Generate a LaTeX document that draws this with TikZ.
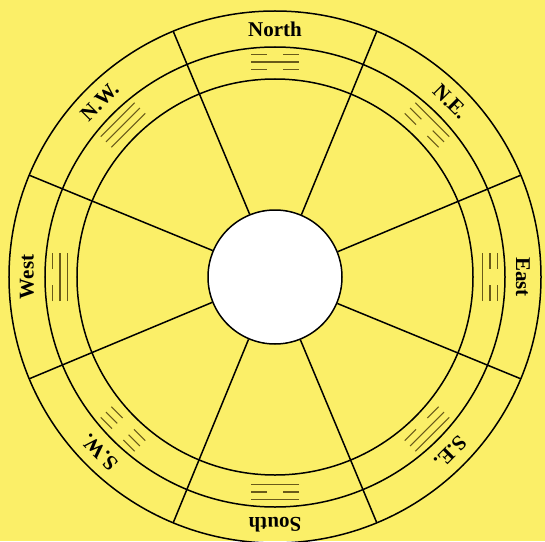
\documentclass[tikz,border=0pt]{standalone}
\usepackage{fontspec}
\setmainfont{Liberation Serif}
\definecolor{bg}{RGB}{251,239,104}
\definecolor{tri}{RGB}{105,90,25}
\begin{document}
\begin{tikzpicture}[x=1pt,y=1pt,
  ring/.style={draw=black, line width=1.5pt},
  lbl/.style={font=\bfseries\fontsize{21}{21}\selectfont, inner sep=0pt},
  yao/.style={draw=tri, line width=1.1pt}]
\fill[bg] (-275,-264) rectangle (270,277);
\useasboundingbox (-275,-264) rectangle (270,277);
% rings
\draw[ring] (0,0) circle (266);
\draw[ring] (0,0) circle (230);
\draw[ring] (0,0) circle (198);
\node[circle, draw=black, line width=1.5pt, fill=white, minimum size=134pt, inner sep=0pt] (hub) at (0,0) {};
% radial lines
\foreach \a [count=\i] in {22.5,67.5,112.5,157.5,202.5,247.5,292.5,337.5}{
  \coordinate (r\i) at (\a:266);
  \draw[ring] (hub.\a) -- (r\i);
}
% labels
\foreach \a/\t/\n in {90/North/lN, 45/N.E./lNE, 0/East/lE, -45/S.E./lSE, -90/South/lS, -135/S.W./lSW, 180/West/lW, 135/N.W./lNW}{
  \node[lbl, rotate=\a-90] (\n) at (\a:248) {\t};
}
% trigrams: pattern inner, middle, outer (1 = solid, 0 = broken)
\foreach \a/\p/\q/\r in {90/0/1/0, 45/0/0/1, 0/1/0/0, -45/0/1/1, -90/1/0/1, -135/0/0/0, 180/1/1/0, 135/1/1/1}{
  \begin{scope}[shift={(\a:215)}, rotate=\a-90]
    \foreach \k/\y in {\p/-7.5, \q/0, \r/7.5}{
      \ifnum\k=1
        \draw[yao] (-24,\y) -- (24,\y);
      \else
        \draw[yao] (-24,\y) -- (-8,\y) (8,\y) -- (24,\y);
      \fi
    }
  \end{scope}
}
\end{tikzpicture}
\end{document}
